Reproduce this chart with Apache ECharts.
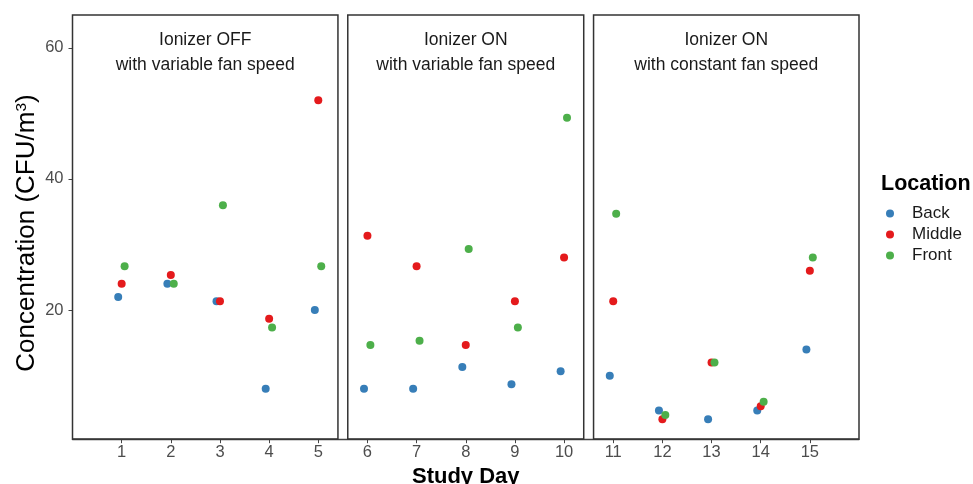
<!DOCTYPE html>
<html>
<head>
<meta charset="utf-8">
<script src="https://cdn.jsdelivr.net/npm/echarts@6/dist/echarts.min.js"></script>
<style>html,body{margin:0;padding:0;background:#fff;}#c{width:973px;height:484px;}</style>
</head>
<body>
<div id="c"></div>
<script>
const days = [1,2,3,4,5,6,7,8,9,10,11,12,13,14,15];
const back   = [22, 24, 21.33, 8, 20, 8, 8, 11.33, 8.67, 10.67, 10, 4.67, 3.33, 4.67, 14];
const middle = [24, 25.33, 21.33, 18.67, 52, 31.33, 26.67, 14.67, 21.33, 28, 21.33, 3.33, 12, 5.33, 26];
const front  = [26.67, 24, 36, 17.33, 26.67, 14.67, 15.33, 29.33, 17.33, 49.33, 34.67, 4, 12, 6, 28];
const yTicks = [20, 40, 60];
const panelTitles = ['Ionizer OFF\nwith variable fan speed', 'Ionizer ON\nwith variable fan speed', 'Ionizer ON\nwith constant fan speed'];
const panelRanges = [[0, 5.4], [5.6, 10.4], [10.6, 16]];
const yTitle = 'Concentration (CFU/m{sup|3})';

const font = 'Liberation Sans, Arial, sans-serif';
const dodge = {Back: -0.07, Middle: 0, Front: 0.06};
function pts(vals, name) { return vals.map((v, i) => [days[i] + dodge[name], v]); }

const chart = echarts.init(document.getElementById('c'), null, {renderer: 'canvas'});
chart.setOption({
  animation: false,
  backgroundColor: '#fff',
  textStyle: {fontFamily: font},
  grid: {left: 72.5, right: 114, top: 15, bottom: 42.8, containLabel: false, outerBoundsMode: 'none'},
  title: {
    text: 'Location', left: 876, top: 168,
    textStyle: {fontFamily: font, fontSize: 21.5, fontWeight: 'bold', color: '#000'}
  },
  legend: {
    data: ['Back', 'Middle', 'Front'],
    orient: 'vertical', left: 881, top: 200,
    icon: 'circle', itemWidth: 8, itemHeight: 8, itemGap: 4,
    textStyle: {fontFamily: font, fontSize: 17, color: '#1a1a1a', padding: [0, 0, 0, 13]}
  },
  graphic: [{
    type: 'text', x: 27, y: 233, rotation: Math.PI / 2,
    style: {
      text: yTitle, fill: '#000', fontSize: 26, fontFamily: font,
      align: 'center', verticalAlign: 'middle',
      rich: {sup: {fontSize: 15.5, verticalAlign: 'top', fontFamily: font, fill: '#000'}}
    }
  }],
  xAxis: {
    type: 'value', min: 0, max: 16, offset: -2,
    name: 'Study Day', nameLocation: 'middle', nameGap: 22,
    nameTextStyle: {fontFamily: font, fontSize: 22, fontWeight: 'bold', color: '#000'},
    axisLine: {show: true, lineStyle: {color: '#444', width: 1.3}},
    axisTick: {show: true, customValues: days, length: 4, lineStyle: {color: '#444'}},
    axisLabel: {customValues: days, margin: 5, fontSize: 16.5, color: '#4d4d4d', fontFamily: font},
    splitLine: {show: false}
  },
  yAxis: {
    type: 'value', min: 0, max: 65,
    axisLine: {show: false},
    axisTick: {show: true, customValues: yTicks, length: 4, lineStyle: {color: '#444'}},
    axisLabel: {customValues: yTicks, margin: 9, fontSize: 16.5, color: '#4d4d4d', fontFamily: font},
    splitLine: {show: false}
  },
  series: [
    {
      type: 'scatter', name: 'panels', data: [], z: 1, silent: true,
      markArea: {
        silent: true,
        itemStyle: {color: 'rgba(255,255,255,0)', borderColor: '#333', borderWidth: 1.5},
        label: {show: true, position: 'insideTop', distance: 13, fontSize: 17.5, lineHeight: 25,
                color: '#1a1a1a', fontFamily: font, align: 'center'},
        data: panelRanges.map((r, i) => [
          {name: panelTitles[i], xAxis: r[0], yAxis: 0.33},
          {xAxis: r[1], yAxis: 65}
        ])
      }
    },
    {type: 'scatter', name: 'Back', data: pts(back, 'Back'), symbolSize: 8, z: 2, itemStyle: {color: '#377EB8', opacity: 1}},
    {type: 'scatter', name: 'Middle', data: pts(middle, 'Middle'), symbolSize: 8, z: 3, itemStyle: {color: '#E41A1C', opacity: 1}},
    {type: 'scatter', name: 'Front', data: pts(front, 'Front'), symbolSize: 8, z: 4, itemStyle: {color: '#4DAF4A', opacity: 1}}
  ]
});
</script>
</body>
</html>
